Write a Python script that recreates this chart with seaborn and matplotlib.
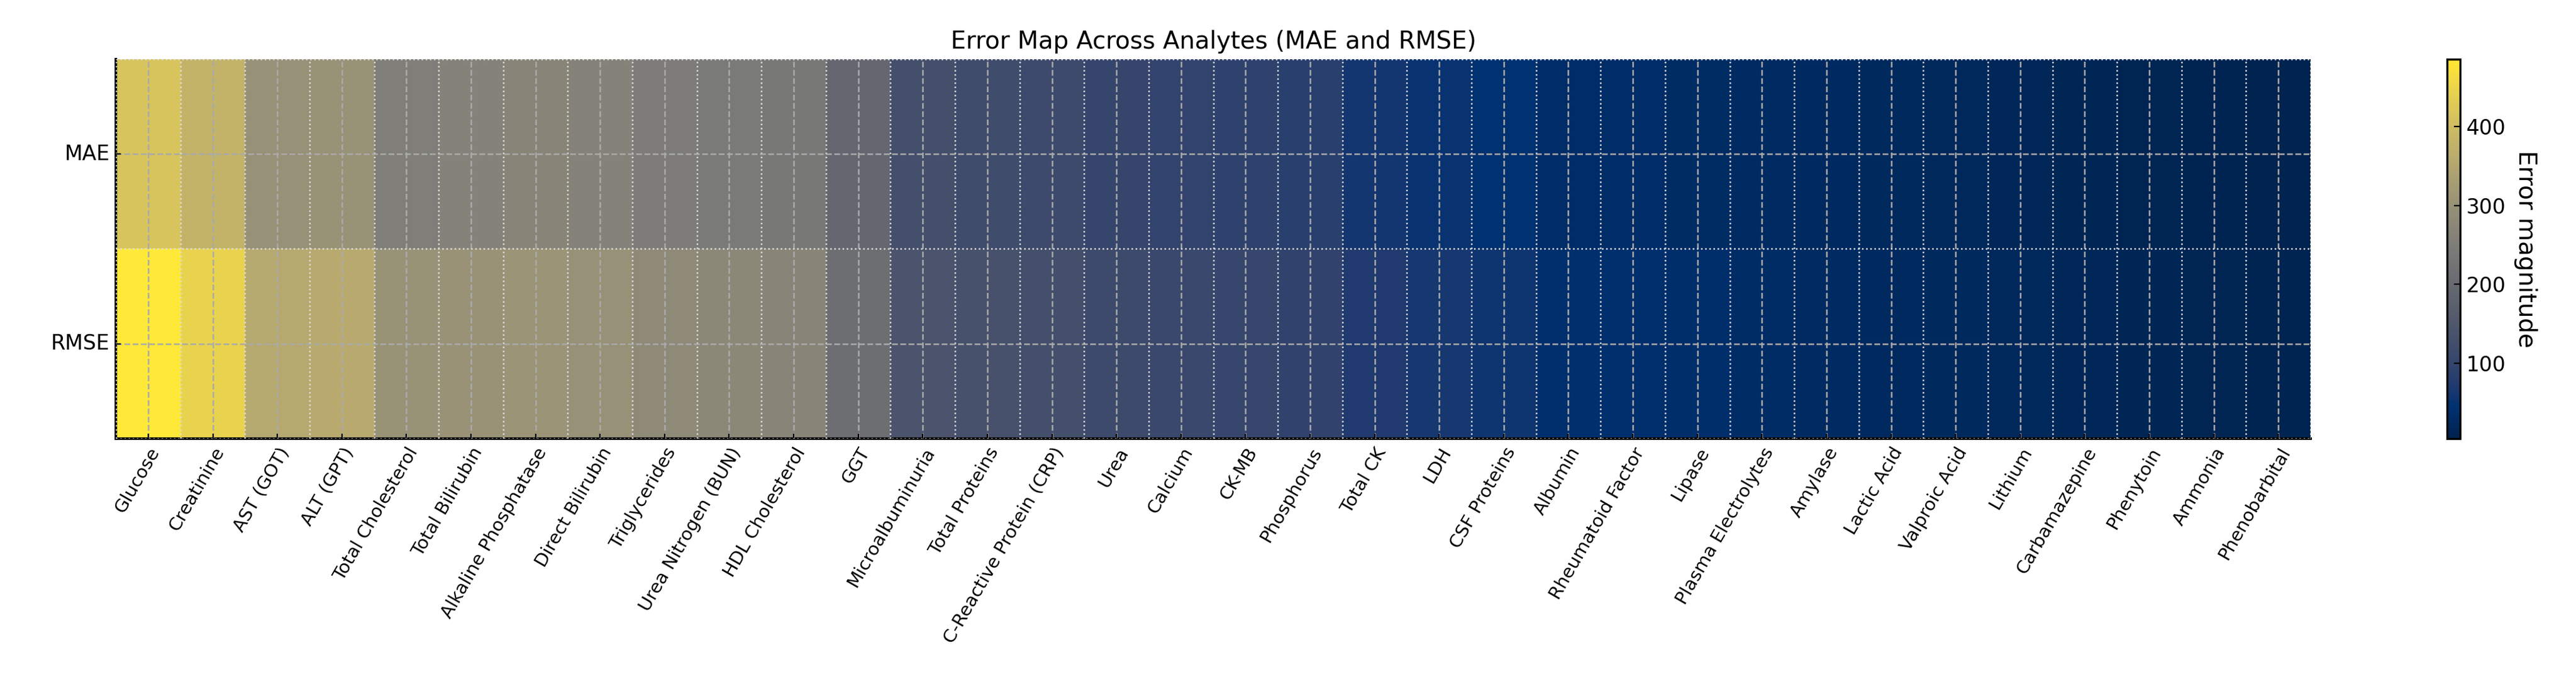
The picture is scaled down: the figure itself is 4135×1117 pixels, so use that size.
import numpy as np
import pandas as pd
import seaborn as sns
import matplotlib
matplotlib.use("Agg")
import matplotlib.pyplot as plt

analytes = ["Glucose", "Creatinine", "AST (GOT)", "ALT (GPT)", "Total Cholesterol",
            "Total Bilirubin", "Alkaline Phosphatase", "Direct Bilirubin", "Triglycerides",
            "Urea Nitrogen (BUN)", "HDL Cholesterol", "GGT", "Microalbuminuria",
            "Total Proteins", "C-Reactive Protein (CRP)", "Urea", "Calcium", "CK-MB",
            "Phosphorus", "Total CK", "LDH", "CSF Proteins", "Albumin", "Rheumatoid Factor",
            "Lipase", "Plasma Electrolytes", "Amylase", "Lactic Acid", "Valproic Acid",
            "Lithium", "Carbamazepine", "Phenytoin", "Ammonia", "Phenobarbital"]
metrics = ["MAE", "RMSE"]
mae = [415, 378, 298, 300, 252, 262, 268, 262, 245, 240, 236, 192, 128,
       120, 115, 102, 96, 92, 82, 60, 52, 46, 34, 34, 30, 28, 25, 22, 20,
       18, 15, 12, 10, 8]
rmse = [485, 445, 355, 358, 300, 302, 305, 298, 282, 276, 268, 210, 140,
        134, 128, 114, 108, 104, 94, 72, 62, 56, 40, 40, 35, 32, 28, 25, 22,
        20, 18, 15, 12, 10]

df = pd.DataFrame([mae, rmse], index=metrics, columns=analytes)

fig = plt.figure(figsize=(20.675, 5.585), dpi=200)
ax = fig.add_axes([0.045, 0.37, 0.852, 0.545])
cax = fig.add_axes([0.950, 0.37, 0.005, 0.545])
sns.heatmap(df, cmap="cividis", vmin=5, vmax=485, ax=ax, cbar_ax=cax,
            cbar_kws={"ticks": [100, 200, 300, 400]})
ax.set_title("Error Map Across Analytes (MAE and RMSE)", fontsize=14)
ax.set_xticklabels(analytes, rotation=60, ha="right", rotation_mode="anchor", fontsize=10.5)
ax.set_yticklabels(metrics, rotation=0, fontsize=12)
ax.set_xlabel(""); ax.set_ylabel("")
ax.tick_params(direction="in", length=3)
ax.set_xticks(np.arange(len(analytes) + 1), minor=True)
ax.set_yticks(np.arange(3), minor=True)
ax.tick_params(which="minor", length=0)
ax.grid(True, which="major", color="#aaaaaa", linestyle="--", linewidth=0.9)
ax.grid(True, which="minor", color="#dddddd", linestyle=":", linewidth=0.9)
ax.set_axisbelow(False)
for s in ["left", "bottom"]:
    ax.spines[s].set_visible(True)
    ax.spines[s].set_linewidth(1.5)
cb = ax.collections[0].colorbar
cb.outline.set_visible(True)
cb.outline.set_linewidth(1.2)
cb.ax.tick_params(labelsize=12, direction="in")
cb.set_label("Error magnitude", rotation=270, labelpad=18, fontsize=14)
fig.savefig("out.png", dpi=200)
